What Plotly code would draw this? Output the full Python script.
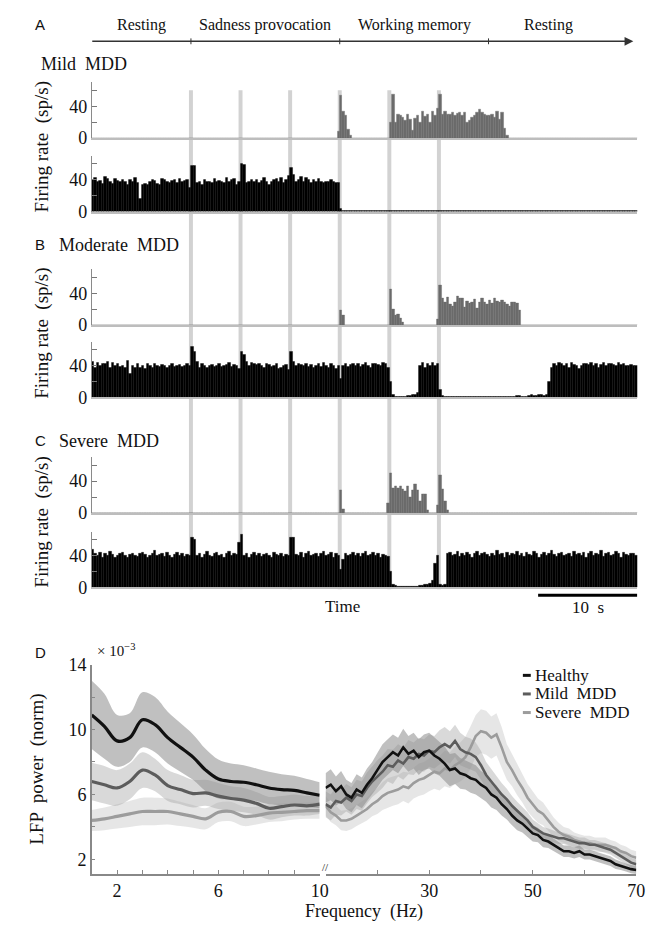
import plotly.graph_objects as go

W, H = 669, 929
def px(x): return x / W
def py(y): return 1 - y / H

SERIF = '"Liberation Serif", "Times New Roman", Times, "DejaVu Serif", serif'
SANS = '"Liberation Sans", Arial, Helvetica, sans-serif'

# ---------------- data: firing-rate histograms (0.25 s bins, 0-55 s) ----------------
BIN_W = 0.25
T_MAX = 55
STIM_TIMES = [10, 15, 20, 25, 30, 35]
PHASE_LABELS = ["Resting", "Sadness provocation", "Working memory", "Resting"]
PHASE_BOUNDS = [0, 10, 25, 40, 55]
FR_TICKS = [0, 20, 40, 60]
FR_TICKTEXT = ["0", "", "40", ""]

# Mild MDD
A_TOP = ([0] * 99 + [8, 54, 34, 28, 11, 3] + [0] * 15 +
         [20, 55, 20, 30, 28, 26, 22, 30, 24, 10, 25, 28, 20, 33, 27, 30, 20, 33, 28, 38,
          55, 30, 33, 30, 30, 32, 29, 31, 32, 28, 32, 20, 22, 26, 29, 32, 36, 32, 30, 29,
          28, 30, 26, 33, 24, 32, 12, 3] + [0] * 52)
A_BOT = ([40, 42, 37, 39, 35, 44, 41, 38, 35, 41, 39, 38, 40, 37, 34, 40, 38, 42, 36, 16,
          34, 35, 34, 38, 40, 39, 35, 34, 41, 40, 38, 36, 39, 40, 36, 41, 38, 39, 40, 30,
          57, 58, 36, 38, 34, 40, 38, 38, 36, 41, 38, 39, 38, 36, 42, 37, 40, 41, 34, 38,
          60, 59, 36, 38, 40, 37, 40, 36, 39, 42, 38, 33, 37, 40, 41, 38, 42, 36, 40, 45,
          55, 46, 38, 40, 44, 37, 42, 40, 36, 40, 38, 41, 37, 36, 38, 37, 40, 38, 36, 36,
          4] + [1] * 119)
# Moderate MDD
B_TOP = ([0] * 100 + [19, 12] + [0] * 18 + [45, 20, 12, 14, 8, 3] + [0] * 13 + [7] +
         [50, 33, 28, 35, 26, 24, 28, 36, 34, 33, 22, 30, 27, 28, 32, 21, 28, 33, 29, 26,
          31, 27, 33, 30, 28, 31, 29, 26, 24, 28, 29, 27, 18] + [0] * 47)
B_BOT = ([45, 38, 44, 40, 42, 43, 45, 38, 44, 40, 42, 39, 40, 38, 46, 30, 40, 38, 43, 37,
          40, 36, 42, 40, 38, 43, 40, 39, 41, 40, 38, 40, 42, 39, 40, 41, 39, 40, 42, 40,
          64, 58, 45, 38, 42, 40, 38, 40, 41, 39, 40, 42, 39, 40, 41, 44, 39, 41, 40, 36,
          58, 54, 45, 40, 44, 42, 41, 43, 40, 38, 42, 41, 39, 40, 42, 36, 38, 40, 41, 35,
          58, 45, 40, 42, 41, 40, 43, 39, 41, 38, 40, 42, 39, 44, 40, 38, 42, 40, 36, 40,
          24, 40, 42, 39, 41, 43, 40, 42, 39, 41, 44, 40, 38, 42, 43, 41, 40, 44, 42, 38,
          20, 3, 1, 1, 1, 1, 1, 2, 2, 3, 4, 6,
          40, 44, 38, 42, 40, 44, 40, 42,
          10, 2, 1, 1, 1, 1, 1, 1, 1, 1, 1, 1, 1, 1, 1, 1, 1, 1, 1, 1,
          1, 1, 1, 1, 1, 1, 1, 1, 1, 1, 1, 2, 2, 1, 1, 1, 2, 3, 2, 2, 3, 3, 2, 4,
          20, 38, 42, 40, 44, 43, 40, 42, 38, 44, 41, 40, 36, 40, 42, 43, 41, 44, 40, 42,
          38, 41, 44, 40, 42, 43, 41, 40, 44, 41, 42, 40, 40, 41, 40, 40])
# Severe MDD
C_TOP = ([0] * 100 + [28, 5] + [0] * 17 + [12] +
         [50, 31, 33, 31, 34, 30, 27, 33, 20, 28, 36, 28, 15, 23, 23] + [3] + [0] * 3 +
         [10, 48, 30, 15, 3] + [0] * 76)
C_BOT = ([48, 42, 40, 44, 38, 42, 40, 45, 41, 38, 40, 42, 44, 40, 38, 41, 43, 40, 39, 42,
          44, 41, 38, 40, 43, 46, 40, 41, 42, 39, 44, 40, 38, 41, 44, 40, 42, 39, 41, 40,
          62, 60, 40, 42, 38, 41, 45, 40, 39, 42, 44, 40, 41, 38, 42, 45, 40, 43, 41, 56,
          66, 40, 42, 38, 41, 44, 40, 42, 39, 41, 43, 40, 38, 44, 41, 40, 42, 39, 41, 40,
          63, 62, 41, 40, 44, 38, 42, 45, 40, 41, 43, 39, 42, 45, 40, 41, 44, 38, 42, 40,
          22, 35, 42, 40, 41, 44, 40, 43, 39, 42, 45, 40, 41, 44, 40, 42, 38, 41, 40, 39,
          20, 3, 2, 1, 1, 1, 1, 1, 1, 1, 1, 1, 2, 2, 3, 4, 5, 8, 30, 40,
          3, 2, 3,
          42, 44, 40, 41, 45, 39, 42, 40, 44, 41, 38, 43, 45, 40, 42, 44, 41, 39, 43, 40,
          46, 41, 42, 38, 44, 40, 43, 41, 45, 40, 42, 39, 44, 41, 40, 45, 42, 38, 41, 44,
          40, 43, 46, 41, 39, 42, 44, 40, 41, 43, 39, 45, 41, 42, 40, 44, 38, 42, 45, 40,
          43, 41, 46, 39, 42, 44, 40, 41, 45, 42, 38, 44, 41, 40, 42, 43, 40])

PANEL_NAMES = ["Mild  MDD", "Moderate  MDD", "Severe  MDD"]
PANEL_LETTERS = ["A", "B", "C"]

# ---------------- data: LFP spectra ----------------
F_LOW = [1.0, 1.5, 2.0, 2.5, 3.0, 3.5, 4.0, 4.5, 5.0, 5.5, 6.0, 6.5, 7.0, 7.5, 8.0, 8.5, 9.0, 9.5, 10.0]
HEALTHY_LOW = [10.9, 10.2, 9.3, 9.5, 10.6, 10.3, 9.5, 8.9, 8.3, 7.5, 6.95, 6.8, 6.75, 6.6, 6.4, 6.3, 6.25, 6.1, 5.95]
HEALTHY_LOW_SEM = [2.1, 2.0, 1.6, 1.5, 1.7, 1.7, 1.6, 1.5, 1.4, 1.3, 1.2, 1.1, 1.05, 1.0, 1.0, 0.95, 0.9, 0.85, 0.8]
MILD_LOW = [6.8, 6.6, 6.4, 6.8, 7.5, 7.2, 6.55, 6.3, 6.05, 6.1, 5.9, 5.75, 5.65, 5.45, 5.15, 5.25, 5.35, 5.3, 5.4]
MILD_LOW_SEM = [1.15, 1.15, 1.1, 1.1, 1.1, 1.0, 0.95, 0.9, 0.85, 0.8, 0.8, 0.75, 0.75, 0.7, 0.7, 0.65, 0.65, 0.6, 0.6]
SEVERE_LOW = [4.4, 4.5, 4.65, 4.8, 4.95, 4.95, 4.95, 4.8, 4.65, 4.5, 4.9, 4.95, 4.65, 4.7, 4.85, 4.9, 4.95, 5.0, 5.0]
SEVERE_LOW_SEM = [0.65, 0.7, 0.75, 0.8, 0.85, 0.85, 0.8, 0.75, 0.7, 0.65, 0.6, 0.6, 0.6, 0.55, 0.55, 0.55, 0.5, 0.5, 0.5]

F_HIGH = list(range(10, 71))
HEALTHY_HIGH = [6.4, 6.6, 6.2, 6.5, 6.0, 5.8, 6.3, 6.1, 6.6, 7.0,
                7.5, 8.0, 8.3, 8.6, 8.4, 8.9, 8.5, 8.7, 8.3, 8.6,
                8.7, 8.4, 8.2, 7.9, 7.5, 7.6, 7.3, 7.2, 7.0, 6.9,
                6.6, 6.4, 6.0, 5.8, 5.4, 5.1, 4.7, 4.4, 4.2, 3.9,
                3.6, 3.5, 3.2, 3.1, 2.9, 2.7, 2.5, 2.5, 2.4, 2.5,
                2.3, 2.3, 2.2, 2.1, 2.0, 1.9, 1.7, 1.6, 1.5, 1.4, 1.35]
HEALTHY_HIGH_SEM = [0.9, 0.95, 0.9, 0.95, 0.9, 0.9, 0.95, 0.95, 1.0, 1.0,
                    1.05, 1.1, 1.1, 1.1, 1.1, 1.15, 1.1, 1.1, 1.1, 1.1,
                    1.1, 1.1, 1.05, 1.05, 1.0, 0.95, 0.95, 0.9, 0.9, 0.9,
                    0.85, 0.85, 0.8, 0.75, 0.7, 0.65, 0.6, 0.6, 0.55, 0.5,
                    0.5, 0.45, 0.45, 0.4, 0.4, 0.4, 0.35, 0.35, 0.35, 0.35,
                    0.3, 0.3, 0.3, 0.3, 0.3, 0.3, 0.3, 0.25, 0.25, 0.25, 0.25]
MILD_HIGH = [5.4, 5.2, 5.6, 5.5, 5.8, 5.6, 6.0, 5.9, 6.4, 6.8,
             7.1, 7.4, 7.8, 7.7, 8.1, 7.9, 8.3, 8.2, 8.5, 8.4,
             8.7, 8.6, 8.9, 9.1, 8.9, 9.3, 8.8, 8.6, 8.5, 8.3,
             7.8, 7.2, 6.8, 6.4, 6.0, 5.7, 5.3, 5.0, 4.7, 4.4,
             4.0, 3.8, 3.6, 3.5, 3.4, 3.3, 3.3, 3.2, 3.1, 3.0,
             3.0, 2.9, 2.9, 2.8, 2.7, 2.6, 2.4, 2.2, 2.0, 1.8, 1.7]
MILD_HIGH_SEM = [0.8, 0.8, 0.85, 0.8, 0.85, 0.85, 0.9, 0.9, 0.95, 0.95,
                 1.0, 1.0, 1.0, 1.05, 1.0, 1.0, 1.05, 1.0, 1.0, 1.0,
                 1.0, 1.0, 1.05, 1.05, 1.0, 1.0, 1.0, 0.95, 0.95, 0.9,
                 0.9, 0.8, 0.75, 0.7, 0.7, 0.65, 0.6, 0.55, 0.5, 0.5,
                 0.45, 0.4, 0.4, 0.4, 0.35, 0.35, 0.35, 0.35, 0.35, 0.35,
                 0.35, 0.3, 0.3, 0.3, 0.3, 0.3, 0.3, 0.3, 0.3, 0.3, 0.3]
SEVERE_HIGH = [5.3, 4.9, 4.7, 4.4, 4.4, 4.5, 4.7, 4.9, 5.1, 5.4,
               5.6, 5.9, 6.1, 6.2, 6.3, 6.5, 6.4, 6.7, 6.9, 7.0,
               7.2, 7.4, 7.3, 7.6, 7.5, 7.8, 8.0, 8.3, 8.9, 9.6,
               9.9, 9.8, 9.5, 9.7, 8.9, 8.0, 7.5, 6.9, 6.4, 5.8,
               5.4, 5.0, 4.8, 4.4, 4.0, 3.7, 3.5, 3.4, 3.2, 3.1,
               3.0, 3.0, 2.9, 2.9, 2.9, 2.8, 2.7, 2.5, 2.4, 2.2, 2.1]
SEVERE_HIGH_SEM = [0.6, 0.6, 0.6, 0.6, 0.65, 0.65, 0.65, 0.7, 0.7, 0.75,
                   0.8, 0.85, 0.9, 0.9, 0.9, 0.9, 0.95, 0.95, 1.0, 1.0,
                   1.0, 1.05, 1.05, 1.1, 1.1, 1.15, 1.2, 1.25, 1.3, 1.3,
                   1.35, 1.35, 1.3, 1.3, 1.25, 1.1, 1.0, 0.95, 0.9, 0.85,
                   0.8, 0.75, 0.7, 0.65, 0.6, 0.55, 0.5, 0.5, 0.45, 0.45,
                   0.45, 0.45, 0.45, 0.45, 0.45, 0.4, 0.4, 0.4, 0.4, 0.4, 0.4]

GROUPS = ["Healthy", "Mild MDD", "Severe MDD"]
LINE_COLORS = ["#111111", "#5c5c5c", "#9c9c9c"]
BAND_COLORS = ["rgba(140,140,140,0.55)", "rgba(165,165,165,0.42)", "rgba(200,200,200,0.45)"]
LOW_MEANS = [HEALTHY_LOW, MILD_LOW, SEVERE_LOW]
LOW_SEMS = [HEALTHY_LOW_SEM, MILD_LOW_SEM, SEVERE_LOW_SEM]
HIGH_MEANS = [HEALTHY_HIGH, MILD_HIGH, SEVERE_HIGH]
HIGH_SEMS = [HEALTHY_HIGH_SEM, MILD_HIGH_SEM, SEVERE_HIGH_SEM]

# ---------------- layout geometry (pixels) ----------------
X_LEFT, X_RIGHT = 93, 646
PANEL_TOPS = [(74, 131, 149, 206), (265, 322, 339, 396), (457, 514, 533, 590)]
LABEL_Y = [55, 240, 440]

fig = go.Figure()
layout = dict(width=W, height=H, margin=dict(l=0, r=0, t=0, b=0),
              paper_bgcolor="white", plot_bgcolor="rgba(0,0,0,0)",
              showlegend=False, bargap=0, barmode="overlay",
              font=dict(family=SERIF, size=15, color="#111"))
annotations = []
shapes = []

def note(x, y, text, size=16, family=SERIF, xanchor="center", yanchor="middle",
         xref="paper", yref="paper", **kw):
    d = dict(x=x, y=y, xref=xref, yref=yref, text=text, showarrow=False,
             xanchor=xanchor, yanchor=yanchor,
             font=dict(family=family, size=size, color="#111"))
    d.update(kw)
    annotations.append(d)

def fr_axes(i, top, bottom):
    layout[f"xaxis{i}"] = dict(domain=[px(X_LEFT), px(X_RIGHT)], range=[0, T_MAX],
                               anchor=f"y{i}", showgrid=False, zeroline=False,
                               showticklabels=False, ticks="", showline=True,
                               linecolor="#bdbdbd", linewidth=1.5, fixedrange=True)
    layout[f"yaxis{i}"] = dict(domain=[py(bottom), py(top)], range=[0, 70],
                               anchor=f"x{i}", showgrid=False, zeroline=False,
                               tickvals=FR_TICKS, ticktext=FR_TICKTEXT, ticks="inside",
                               ticklen=5, tickcolor="#777", showline=True,
                               linecolor="#8a8a8a", linewidth=1,
                               tickfont=dict(family=SERIF, size=18, color="#111"))

series = [(A_TOP, A_BOT), (B_TOP, B_BOT), (C_TOP, C_BOT)]
for p, ((top_vals, bot_vals), (t0, t1, b0, b1)) in enumerate(zip(series, PANEL_TOPS)):
    it = 2 * p + 1
    ib = 2 * p + 2
    fr_axes(it, t0, t1)
    fr_axes(ib, b0, b1)
    fig.add_trace(go.Bar(x0=BIN_W / 2, dx=BIN_W, y=top_vals, width=BIN_W,
                         marker=dict(color="#6b6b6b", line=dict(width=0.4, color="#6b6b6b")),
                         xaxis=f"x{it}", yaxis=f"y{it}"))
    fig.add_trace(go.Bar(x0=BIN_W / 2, dx=BIN_W, y=bot_vals, width=BIN_W,
                         marker=dict(color="#000000", line=dict(width=0.4, color="#000000")),
                         xaxis=f"x{ib}", yaxis=f"y{ib}"))
    if p == 0:
        note(px(33), py(15), PANEL_LETTERS[p], size=15, family=SANS, xanchor="left")
        note(px(40), py(LABEL_Y[p]), PANEL_NAMES[p], size=18, xanchor="left")
    else:
        note(px(33), py(LABEL_Y[p]), PANEL_LETTERS[p], size=15, family=SANS, xanchor="left")
        note(px(58), py(LABEL_Y[p]), PANEL_NAMES[p], size=18, xanchor="left")
    note(px(43), py((t0 + b1) / 2), "Firing rate  (sp/s)", size=19, textangle=-90)

# stimulus bars (gray vertical lines)
for t in STIM_TIMES:
    shapes.append(dict(type="rect", xref="x", yref="paper", x0=t - 0.2, x1=t + 0.2,
                       y0=py(592), y1=py(82), fillcolor="#d2d2d2", line=dict(width=0),
                       layer="below"))

# timeline
TL_Y = 32
annotations.append(dict(x=T_MAX - 0.4, y=py(TL_Y), xref="x", yref="paper",
                        ax=-0.1, ay=0, axref="x", ayref="pixel", showarrow=True,
                        arrowhead=2, arrowsize=1.1, arrowwidth=1.6, arrowcolor="#333",
                        text=""))
for b in PHASE_BOUNDS[1:-1]:
    shapes.append(dict(type="line", xref="x", yref="paper", x0=b, x1=b,
                       y0=py(TL_Y + 3), y1=py(TL_Y - 3), line=dict(color="#333", width=1)))
for lab, a, b in zip(PHASE_LABELS, PHASE_BOUNDS[:-1], PHASE_BOUNDS[1:]):
    note((a + b) / 2 - (1.5 if b == T_MAX else 0), py(15), lab, size=16, xref="x")

# time label & scale bar
note(25.3, py(610), "Time", size=17, xref="x")
shapes.append(dict(type="line", xref="x", yref="paper", x0=45, x1=55, y0=py(598), y1=py(598),
                   line=dict(color="#000", width=3)))
note(50, py(611), "10  s", size=17, xref="x")

# ---------------- Panel D ----------------
D_TOP, D_BOT = 669, 883
layout["xaxis7"] = dict(domain=[px(93), px(324)], range=[1, 10], anchor="y7",
                        showgrid=False, zeroline=False, showline=True, linecolor="#888",
                        linewidth=1.5, tickvals=list(range(1, 11)),
                        ticktext=["", "2", "", "", "", "6", "", "", "", "10"],
                        ticks="inside", ticklen=4, tickcolor="#888",
                        tickfont=dict(family=SERIF, size=18, color="#111"))
layout["yaxis7"] = dict(domain=[py(D_BOT), py(D_TOP)], range=[1.1, 14], anchor="x7",
                        showgrid=False, zeroline=False, showline=True, linecolor="#888",
                        linewidth=1.5, tickvals=[2, 4, 6, 8, 10, 12, 14],
                        ticktext=["2", "", "6", "", "10", "", "14"],
                        ticks="inside", ticklen=4, tickcolor="#888",
                        tickfont=dict(family=SERIF, size=18, color="#111"))
layout["xaxis8"] = dict(domain=[px(330), px(645)], range=[10, 70], anchor="y8",
                        showgrid=False, zeroline=False, showline=True, linecolor="#888",
                        linewidth=1.5, tickvals=[10, 20, 30, 40, 50, 60, 70],
                        ticktext=["", "", "30", "", "50", "", "70"],
                        ticks="inside", ticklen=4, tickcolor="#888",
                        tickfont=dict(family=SERIF, size=18, color="#111"))
layout["yaxis8"] = dict(domain=[py(D_BOT), py(D_TOP)], range=[1.1, 14], anchor="x8",
                        showgrid=False, zeroline=False, showline=False,
                        showticklabels=False, ticks="")

for seg, (f, means, sems, lw, shape) in enumerate([
        (F_LOW, LOW_MEANS, LOW_SEMS, 3.2, "spline"),
        (F_HIGH, HIGH_MEANS, HIGH_SEMS, 2.6, "linear")]):
    xa, ya = ("x7", "y7") if seg == 0 else ("x8", "y8")
    for g in (2, 1, 0):
        upper = [m + s for m, s in zip(means[g], sems[g])]
        lower = [m - s for m, s in zip(means[g], sems[g])]
        fig.add_trace(go.Scatter(x=f, y=upper, mode="lines", line=dict(width=0, shape=shape),
                                 xaxis=xa, yaxis=ya, hoverinfo="skip"))
        fig.add_trace(go.Scatter(x=f, y=lower, mode="lines", line=dict(width=0, shape=shape),
                                 fill="tonexty", fillcolor=BAND_COLORS[g],
                                 xaxis=xa, yaxis=ya, hoverinfo="skip"))
    for g in (2, 1, 0):
        fig.add_trace(go.Scatter(x=f, y=means[g], mode="lines", name=GROUPS[g],
                                 line=dict(color=LINE_COLORS[g], width=lw, shape=shape),
                                 xaxis=xa, yaxis=ya))

note(px(33), py(657), "D", size=15, family=SANS, xanchor="left")
note(px(96), py(654), "× 10<sup>−3</sup>", size=15, xanchor="left")
note(px(38), py((D_TOP + D_BOT) / 2), "LFP  power  (norm)", size=19, textangle=-90)
note(px(369), py(921), "Frequency  (Hz)", size=18)
note(px(330), py(876), "//", size=11)

LEG_Y = [680, 699, 718]
for g in range(3):
    shapes.append(dict(type="line", xref="paper", yref="paper", x0=px(530), x1=px(538),
                       y0=py(LEG_Y[g]), y1=py(LEG_Y[g]),
                       line=dict(color=LINE_COLORS[g], width=3)))
    note(px(540), py(LEG_Y[g]), GROUPS[g].replace(" ", "  "), size=17, xanchor="left")

layout["annotations"] = annotations
layout["shapes"] = shapes
fig.update_layout(**layout)
fig.write_html("out.html")
